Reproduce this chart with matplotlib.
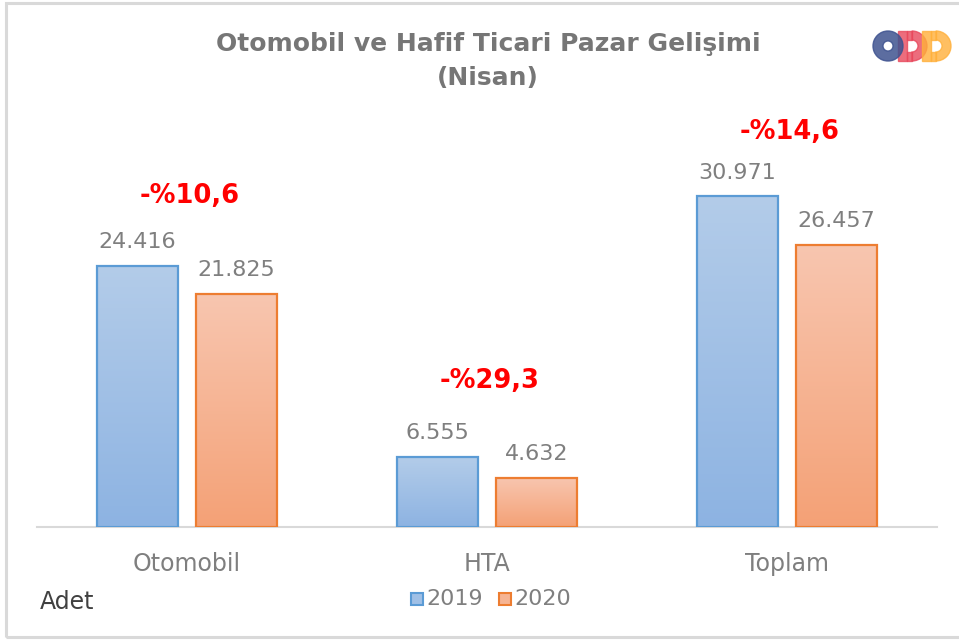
import matplotlib
matplotlib.use("Agg")
import matplotlib.pyplot as plt
import numpy as np
from matplotlib.patches import Rectangle, Wedge
from matplotlib.colors import LinearSegmentedColormap

plt.rcParams["font.family"] = ["DejaVu Sans"]

# --- data ---
categories = ["Otomobil", "HTA", "Toplam"]
sales_2019 = [24416, 6555, 30971]
sales_2020 = [21825, 4632, 26457]
series_labels = ["2019", "2020"]
change_labels = ["-%10,6", "-%29,3", "-%14,6"]
change_y = [31000, 13700, 37000]

GRAY = "#7f7f7f"
BLUE_EDGE = "#5b9bd5"
ORANGE_EDGE = "#ed7d31"
blue_cmap = LinearSegmentedColormap.from_list("b", ["#8db3e2", "#b3cce9"])
orange_cmap = LinearSegmentedColormap.from_list("o", ["#f4a176", "#f8c6b0"])


def fmt_tr(v):
    return f"{v:,}".replace(",", ".")


def gradient_bars(ax, xs, vals, width, cmap, edge):
    grad = np.linspace(0, 1, 256).reshape(-1, 1)
    for x, v in zip(xs, vals):
        x0 = x - width / 2
        rect = Rectangle((x0, 0), width, v, facecolor="none", edgecolor=edge,
                         linewidth=1.6, zorder=3)
        ax.add_patch(rect)
        im = ax.imshow(grad, cmap=cmap, origin="lower", aspect="auto",
                       extent=(x0, x0 + width, 0, v), zorder=2)
        im.set_clip_path(rect)


fig = plt.figure(figsize=(9.59, 6.4), dpi=100)
fig.patch.set_facecolor("white")

# outer frame
fig.add_artist(Rectangle((6 / 959, 3 / 640), 1.2, 634 / 640, transform=fig.transFigure,
                         facecolor="none", edgecolor="#d9d9d9", linewidth=2.2))

ax = fig.add_axes([37 / 959, 113 / 640, 900 / 959, 427 / 640])
x = np.arange(len(categories))
width = 0.267
off = 0.165

gradient_bars(ax, x - off, sales_2019, width, blue_cmap, BLUE_EDGE)
gradient_bars(ax, x + off, sales_2020, width, orange_cmap, ORANGE_EDGE)

for xi, v in zip(x - off, sales_2019):
    ax.text(xi, v + 1300, fmt_tr(v), ha="center", va="bottom", fontsize=16, color=GRAY)
for xi, v in zip(x + off, sales_2020):
    ax.text(xi, v + 1300, fmt_tr(v), ha="center", va="bottom", fontsize=16, color=GRAY)
for xi, lab, yy in zip(x, change_labels, change_y):
    ax.text(xi + 0.01, yy, lab, ha="center", va="center", fontsize=18.5,
            fontweight="bold", color="#ff0000")

ax.set_xlim(-0.5, 2.5)
ax.set_ylim(0, 40000)
for s in ("top", "right", "left"):
    ax.spines[s].set_visible(False)
ax.spines["bottom"].set_color("#d9d9d9")
ax.spines["bottom"].set_linewidth(1.5)
ax.set_yticks([])
ax.set_xticks(x)
ax.set_xticklabels(categories, fontsize=17, color=GRAY)
ax.tick_params(axis="x", length=0, pad=18)
ax.set_facecolor("none")

fig.text(488 / 959, 1 - 44 / 640, "Otomobil ve Hafif Ticari Pazar Gelişimi",
         ha="center", va="center", fontsize=18, fontweight="bold", color="#767676")
fig.text(488 / 959, 1 - 78 / 640, "(Nisan)",
         ha="center", va="center", fontsize=18, fontweight="bold", color="#767676")

fig.text(40 / 959, 1 - 602 / 640, "Adet", ha="left", va="center", fontsize=17, color="#404040")

# legend
for i, (lab, cm, ec) in enumerate(zip(series_labels, [blue_cmap, orange_cmap], [BLUE_EDGE, ORANGE_EDGE])):
    lx = 411 + i * 88
    fig.add_artist(Rectangle((lx / 959, 1 - 605 / 640), 12 / 959, 12 / 640,
                             transform=fig.transFigure, facecolor=cm(0.5),
                             edgecolor=ec, linewidth=1.5))
    fig.text((lx + 15) / 959, 1 - 599 / 640, lab, ha="left", va="center",
             fontsize=16, color=GRAY)

# ODD logo
lax = fig.add_axes([860 / 959, 1 - 75 / 640, 100 / 959, 60 / 640])
lax.set_xlim(860, 960)
lax.set_ylim(75, 15)
lax.set_aspect("equal")
lax.axis("off")
lax.add_patch(Wedge((888, 46), 15, 0, 360, width=10, color="#3f5390", alpha=0.85, zorder=3))
for x0, col in ((898, "#e8485c"), (922, "#ffb03b")):
    lax.add_patch(Rectangle((x0, 31), 9, 30, color=col, alpha=0.8, zorder=2))
    lax.add_patch(Wedge((x0 + 14, 46), 15, -90, 90, width=9, color=col, alpha=0.8, zorder=2))
    lax.add_patch(Rectangle((x0 + 9, 31), 5, 9, color=col, alpha=0.8, zorder=2))
    lax.add_patch(Rectangle((x0 + 9, 52), 5, 9, color=col, alpha=0.8, zorder=2))

fig.savefig("out.png", dpi=100, facecolor="white")
